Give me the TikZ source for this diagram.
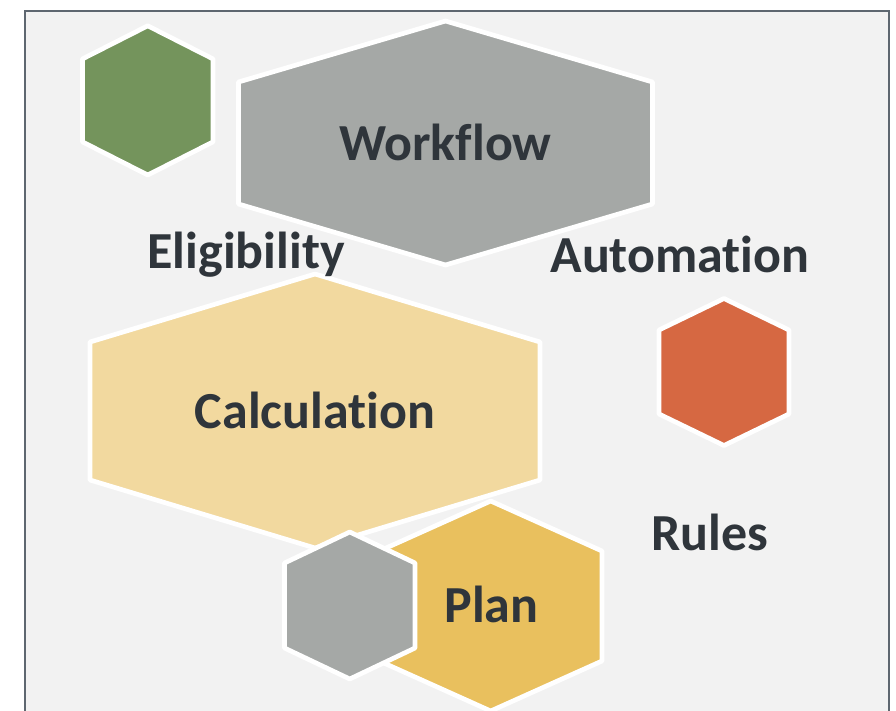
\documentclass[tikz,border=0pt]{standalone}
\usepackage{fontspec}
\setmainfont{Carlito}[Ligatures={NoCommon,NoContextual}]
\definecolor{bgc}{HTML}{F2F2F2}
\definecolor{framec}{HTML}{5E6770}
\definecolor{greenc}{HTML}{74945C}
\definecolor{grayc}{HTML}{A5A8A6}
\definecolor{calcc}{HTML}{F2D99F}
\definecolor{orangec}{HTML}{D66842}
\definecolor{planc}{HTML}{E9C05E}
\definecolor{txtc}{HTML}{2F353B}
\newcommand{\hexa}[6]{%
  \fill[#6, draw=white, line width=4.7pt, line join=round]
    (#1,#2-#4) -- (#1+#3,#2-#5) -- (#1+#3,#2+#5) -- (#1,#2+#4)
    -- (#1-#3,#2+#5) -- (#1-#3,#2-#5) -- cycle;}
\tikzset{lbl/.style={anchor=base, inner sep=0pt, text=txtc,
  font=\bfseries\fontsize{52}{60}\selectfont}}
\begin{document}
\begin{tikzpicture}[x=1pt,y=-1pt]
\useasboundingbox (0,0) rectangle (896,710);
\fill[white] (0,0) rectangle (896,710);
\fill[bgc] (25,11) rectangle (889,720);
\draw[framec, line width=1.7pt] (25,720) -- (25,11) -- (889,11) -- (889,720);
% hexagons
\hexa{147.75}{100.4}{65.25}{74.6}{41.5}{greenc}
\hexa{445.5}{143}{207}{122}{61}{grayc}
\hexa{315}{411}{225}{137}{69}{calcc}
\hexa{724}{372}{65}{73.5}{42}{orangec}
\hexa{490.7}{606}{111.3}{105}{55}{planc}
\hexa{349.75}{605.5}{65.25}{73.5}{42.5}{grayc}
% labels
\node[lbl] (workflow) at (445.5,160) {Workflow};
\node[lbl] (calc) at (315,428) {Calculation};
\node[lbl] (elig) at (246,268) {Eligibility};
\node[lbl] (auto) at (680,272) {Automation};
\node[lbl] (rules) at (710,550) {Rules};
\node[lbl] (plan) at (491.5,622) {Plan};
\end{tikzpicture}
\end{document}
